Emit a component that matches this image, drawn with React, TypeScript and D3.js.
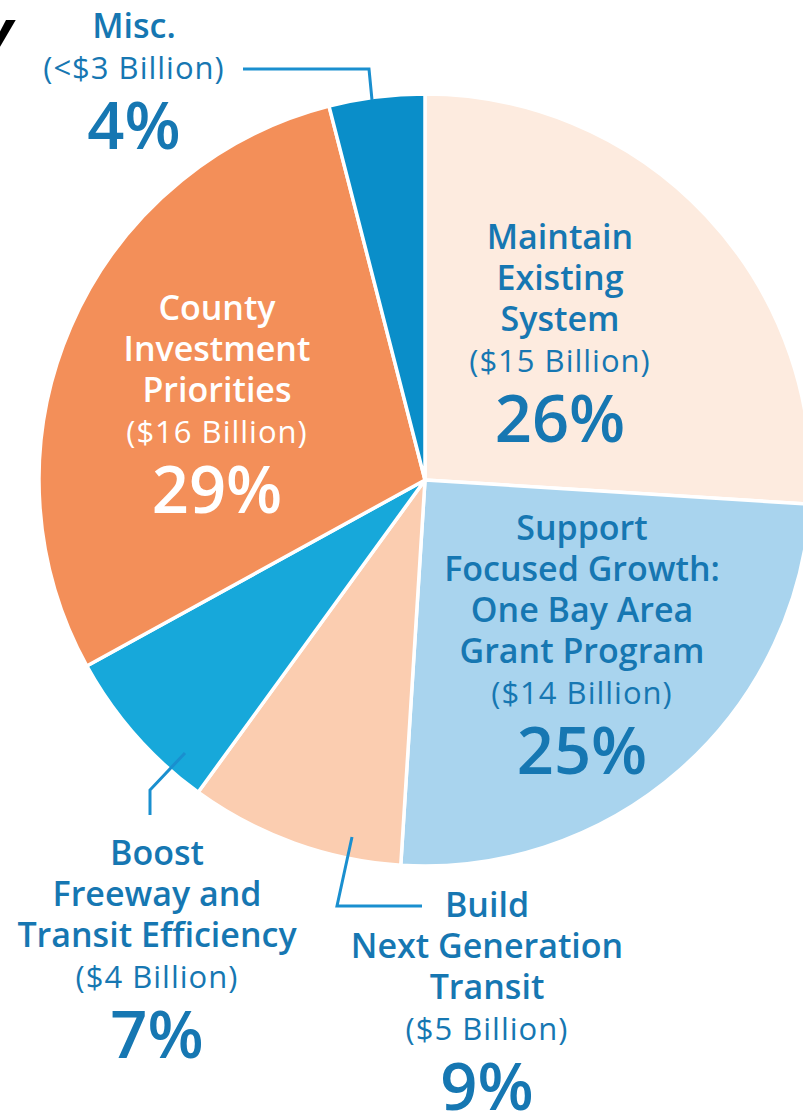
import React from "react";
import * as d3 from "d3";

// ---- data ----
const categories = [
  ["Maintain", "Existing", "System"],
  ["Support", "Focused Growth:", "One Bay Area", "Grant Program"],
  ["Build", "Next Generation", "Transit"],
  ["Boost", "Freeway and", "Transit Efficiency"],
  ["County", "Investment", "Priorities"],
  ["Misc."],
];
const amounts = ["($15 Billion)", "($14 Billion)", "($5 Billion)", "($4 Billion)", "($16 Billion)", "(<$3 Billion)"];
const percents = [26, 25, 9, 7, 29, 4];
const sliceColors = ["#fdebdf", "#a9d4ee", "#fbcdb0", "#17a8da", "#f38f59", "#0a8ec9"];

// ---- layout (not data) ----
const W = 803;
const H = 1114;
const CX = 425;
const CY = 480;
const R = 386;
const labelLayout = [
  { cx: 560, y: 249, color: "#1677b2" },
  { cx: 582, y: 540, color: "#1677b2" },
  { cx: 487, y: 917, color: "#1677b2" },
  { cx: 157, y: 865, color: "#1677b2" },
  { cx: 217, y: 320, color: "#ffffff" },
  { cx: 134, y: 38, color: "#1677b2" },
];
const leaderLines: [number, number][][] = [
  [[243, 69], [369, 69], [372, 100]],
  [[185, 753], [150, 790], [150, 815]],
  [[352, 837], [337, 906], [422, 906]],
];

export default function App() {
  const pie = d3
    .pie<number>()
    .sort(null)
    .value((d) => d)
    .startAngle(0)
    .endAngle(2 * Math.PI);
  const arcs = pie(percents);
  const arc = d3.arc<d3.PieArcDatum<number>>().innerRadius(0).outerRadius(R);
  const line = d3.line();
  const font = "'Open Sans', 'Noto Sans', sans-serif";

  return (
    <svg
      width={W}
      height={H}
      style={{ position: "absolute", left: 0, top: 0, background: "#fff" }}
      xmlns="http://www.w3.org/2000/svg"
    >
      <text
        x={14}
        y={48}
        textAnchor="end"
        fontFamily="'DejaVu Sans', sans-serif"
        fontWeight={700}
        fontStyle="italic"
        fontSize={52}
        fill="#000"
      >
        y
      </text>
      <g transform={`translate(${CX},${CY})`}>
        {arcs.map((a, i) => (
          <path
            key={i}
            d={arc(a) || ""}
            fill={sliceColors[i]}
            stroke="#ffffff"
            strokeWidth={3.5}
            strokeLinejoin="round"
          />
        ))}
      </g>
      {leaderLines.map((pts, i) => (
        <path
          key={i}
          d={line(pts) || ""}
          fill="none"
          stroke="#1a8fcf"
          strokeWidth={3}
          strokeLinejoin="miter"
        />
      ))}
      {categories.map((lines, i) => {
        const L = labelLayout[i];
        const step = 41;
        const billionY = L.y + lines.length * step;
        const pctY = billionY + 70;
        return (
          <g key={i} fill={L.color} fontFamily={font} textAnchor="middle">
            {lines.map((t, j) => (
              <text key={j} x={L.cx} y={L.y + j * step} fontSize={34} fontWeight={600}>
                {t}
              </text>
            ))}
            <text x={L.cx} y={billionY} fontSize={31} fontWeight={400} letterSpacing={1}>
              {amounts[i]}
            </text>
            <text x={L.cx} y={pctY} fontSize={65} fontWeight={600}>
              {percents[i]}%
            </text>
          </g>
        );
      })}
    </svg>
  );
}
